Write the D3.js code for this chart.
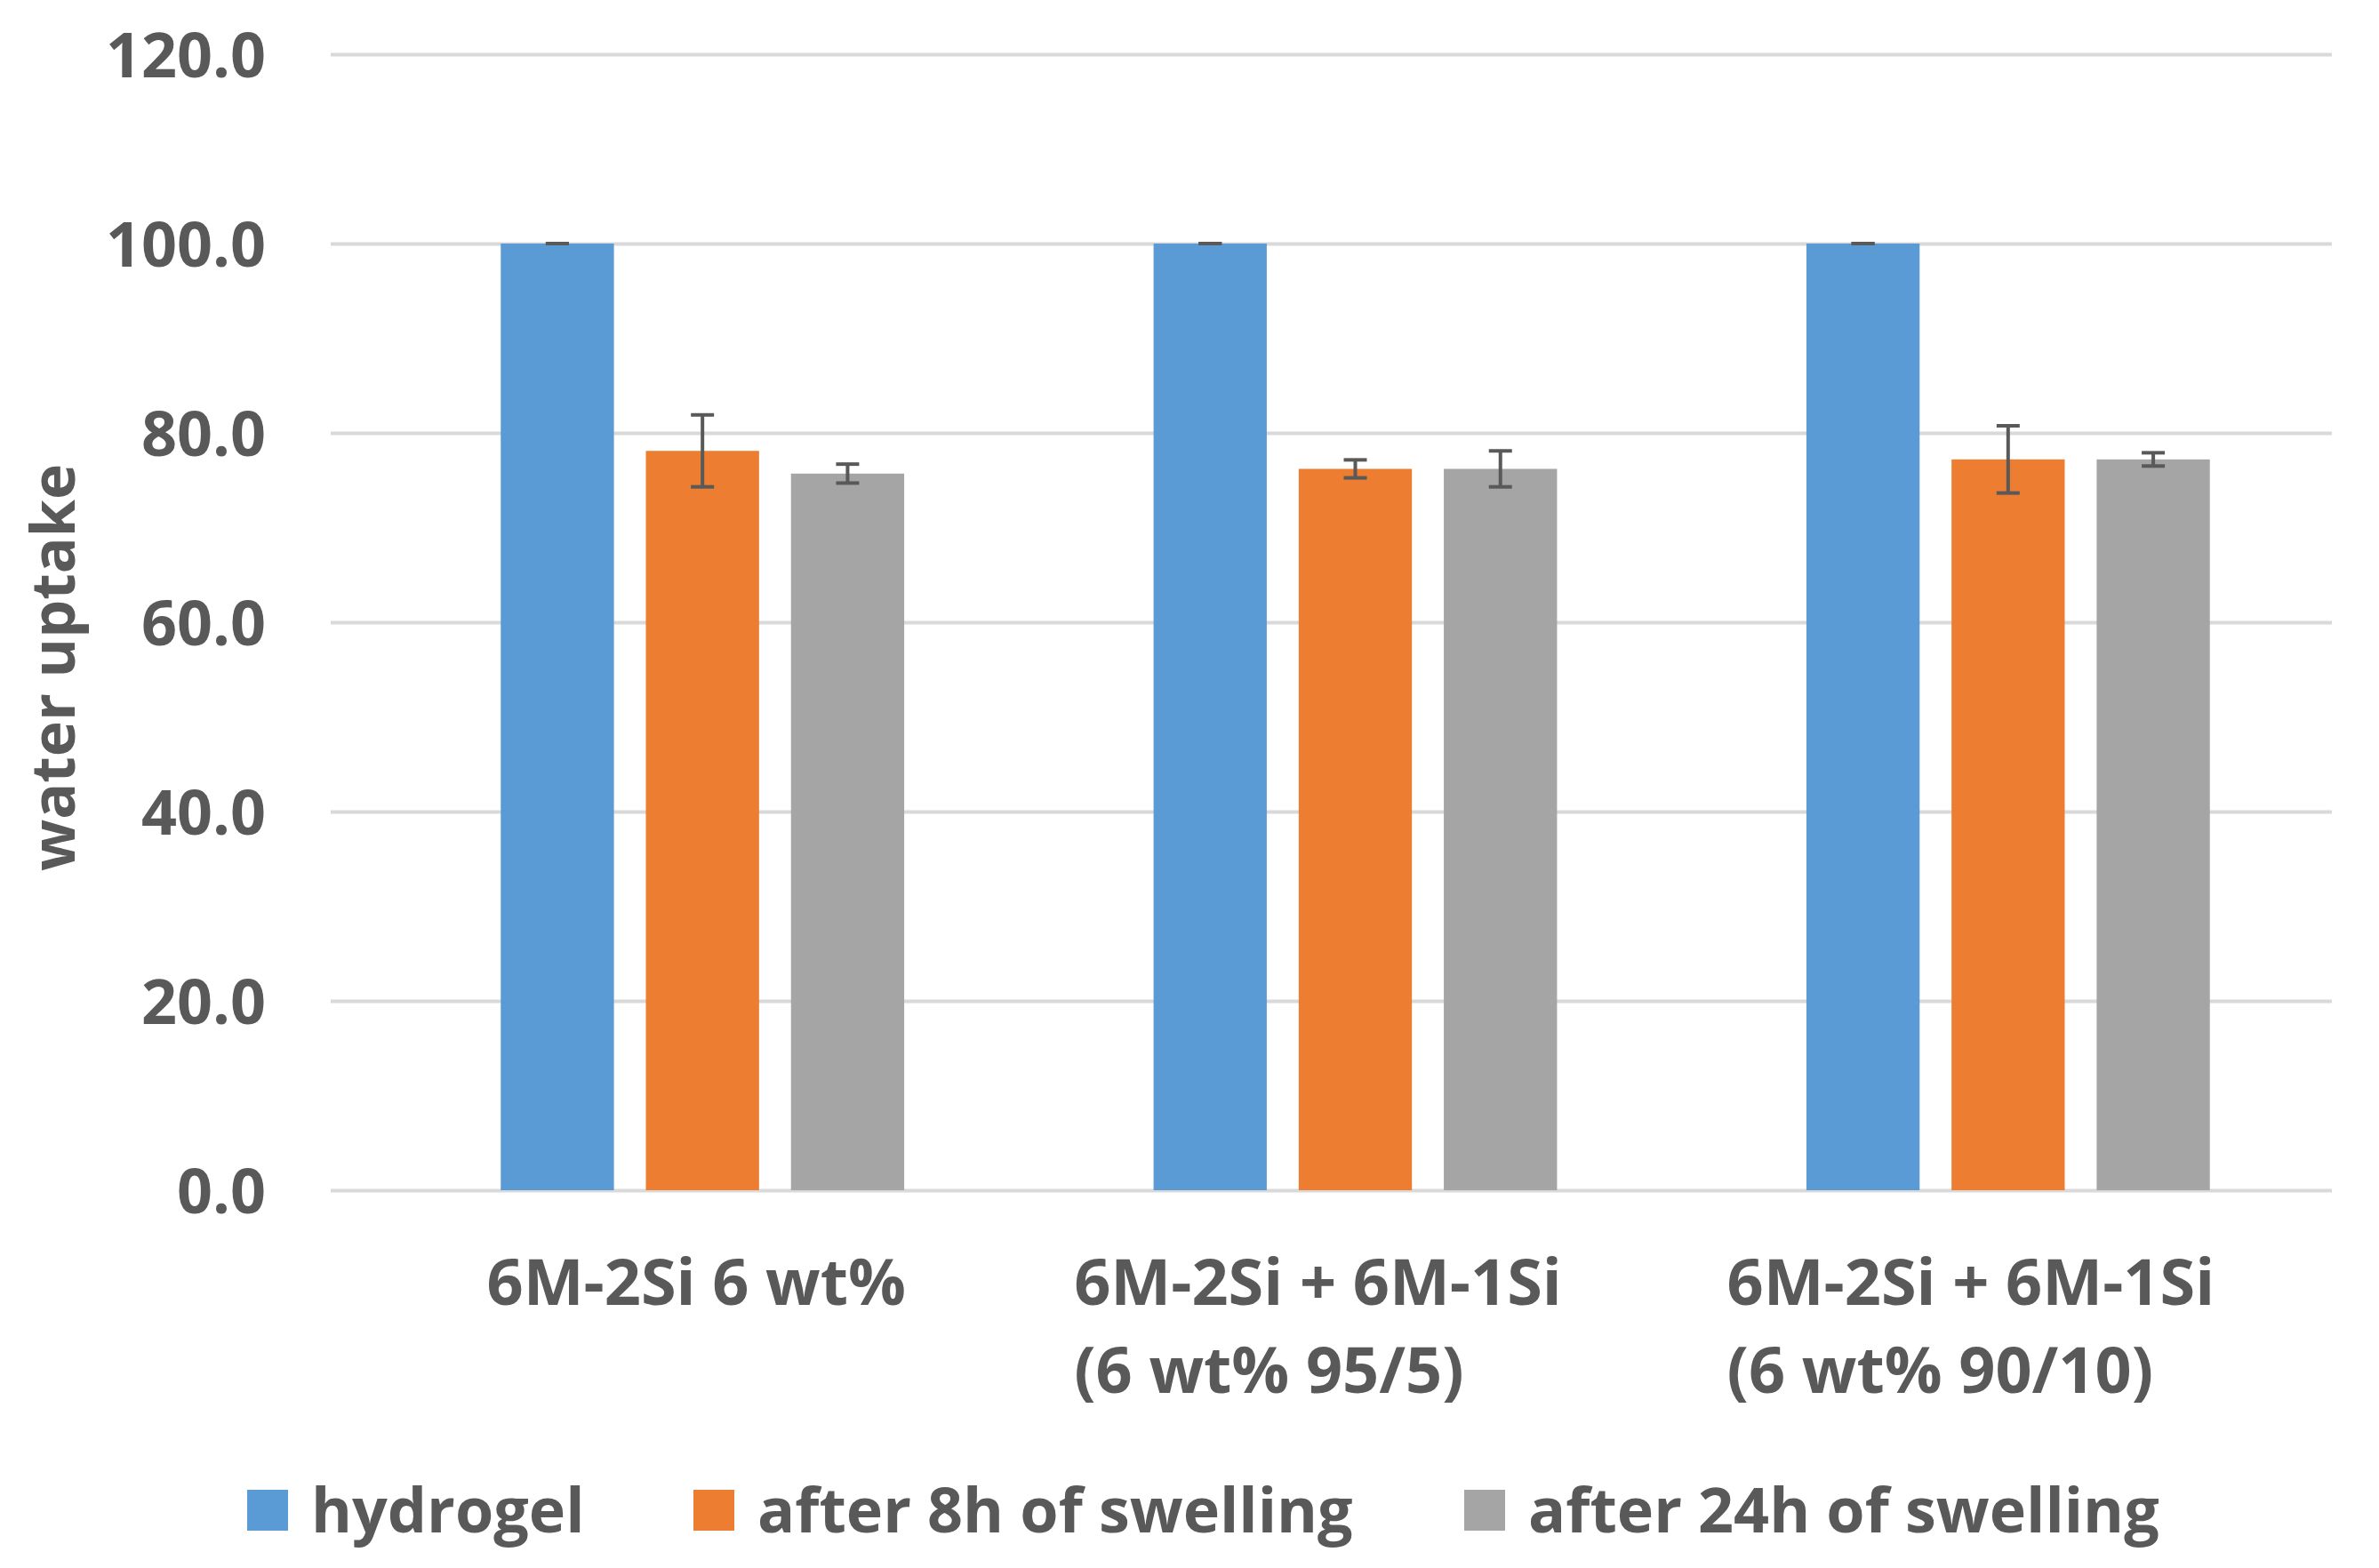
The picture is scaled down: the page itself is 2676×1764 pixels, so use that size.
<!DOCTYPE html>
<html>
<head>
<meta charset="utf-8">
<script src="https://cdn.jsdelivr.net/npm/d3@7"></script>
<style>
  body { margin: 0; background: #fff; }
  .axis text { font-family: "Open Sans", sans-serif; font-weight: 700; fill: #595959; }
  .lbl { font-family: "Open Sans", sans-serif; font-weight: 700; fill: #595959; }
</style>
</head>
<body>
<div id="chart"></div>
<script>
// data
let groups = ["g1", "g2", "g3"];
let groupLabels = [
    ["6M-2Si 6 wt%"],
    ["6M-2Si + 6M-1Si", "(6 wt% 95/5)"],
    ["6M-2Si + 6M-1Si", "(6 wt% 90/10)"]
];
let seriesNames = ["hydrogel", "after 8h of swelling", "after 24h of swelling"];
let seriesColors = ["#5B9BD5", "#ED7D31", "#A5A5A5"];
let hydrogel = [100, 100, 100];
let after8h = [78.1, 76.2, 77.2];
let after24h = [75.7, 76.2, 77.2];
let err8h = [3.8, 0.95, 3.55];
let err24h = [1.0, 1.9, 0.7];
let errHydrogel = [0, 0, 0];
let yTicks = [0, 20, 40, 60, 80, 100, 120];

let values = [hydrogel, after8h, after24h];
let errors = [errHydrogel, err8h, err24h];

let W = 2676, H = 1764;

let svg = d3.select("#chart").append("svg")
    .attr("width", W)
    .attr("height", H);

// scales
let y = d3.scaleLinear().domain([0, 120]).range([1339, 61]);
let x0 = d3.scaleBand().domain(groups).range([423, 2626])
    .paddingInner(0.382).paddingOuter(0.191);
let x1 = d3.scaleBand().domain(seriesNames).range([0, x0.bandwidth()])
    .paddingInner(0.22);

// y axis + gridlines
let gridLeft = 372, gridRight = 2623;
let yAxis = d3.axisLeft(y)
    .tickValues(yTicks)
    .tickFormat(d3.format(".1f"))
    .tickSize(-(gridRight - gridLeft))
    .tickPadding(73);

let yg = svg.append("g")
    .attr("class", "axis")
    .attr("transform", `translate(${gridLeft},0)`)
    .call(yAxis);
yg.select(".domain").remove();
yg.selectAll(".tick line").attr("stroke", "#d9d9d9").attr("stroke-width", 4);
yg.selectAll(".tick text").attr("font-size", 70).attr("dy", "0.36em");

// y title
svg.append("text")
    .attr("class", "lbl")
    .attr("transform", `translate(84, 751) rotate(-90)`)
    .attr("text-anchor", "middle")
    .attr("font-size", 68)
    .text("water uptake");

// bars
let rows = [];
groups.forEach((g, i) => {
    seriesNames.forEach((s, j) => {
        rows.push({group: g, series: s, idx: j, value: values[j][i], err: errors[j][i]});
    });
});

let barG = svg.append("g");
barG.selectAll("rect")
    .data(rows)
    .enter().append("rect")
    .attr("x", d => x0(d.group) + x1(d.series))
    .attr("y", d => y(d.value))
    .attr("width", x1.bandwidth())
    .attr("height", d => y(0) - y(d.value))
    .attr("fill", d => seriesColors[d.idx]);

// error bars
let capW = 26;
let errG = svg.append("g")
    .attr("stroke", "#595959")
    .attr("stroke-width", 4);
rows.forEach(d => {
    let cx = x0(d.group) + x1(d.series) + x1.bandwidth() / 2;
    let top = y(d.value + d.err), bot = y(d.value - d.err);
    errG.append("line").attr("x1", cx).attr("x2", cx).attr("y1", top).attr("y2", bot);
    errG.append("line").attr("x1", cx - capW / 2).attr("x2", cx + capW / 2).attr("y1", top).attr("y2", top);
    errG.append("line").attr("x1", cx - capW / 2).attr("x2", cx + capW / 2).attr("y1", bot).attr("y2", bot);
});

// category labels (left aligned lines, block roughly centred under group)
groups.forEach((g, i) => {
    let cx = x0(g) + x0.bandwidth() / 2;
    let t = svg.append("text")
        .attr("class", "lbl")
        .attr("font-size", 72);
    groupLabels[i].forEach((line, k) => {
        t.append("tspan")
            .attr("y", 1468 + k * 99)
            .text(line);
    });
    let maxW = d3.max(t.selectAll("tspan").nodes(), n => n.getComputedTextLength());
    let shift = groupLabels[i].length > 1 ? 42 : 7;
    t.selectAll("tspan").attr("x", cx - maxW / 2 - shift);
});

// legend
let legendX = [278, 780, 1647];
let legend = svg.append("g");
seriesNames.forEach((s, j) => {
    legend.append("rect")
        .attr("x", legendX[j])
        .attr("y", 1676)
        .attr("width", 46)
        .attr("height", 46)
        .attr("fill", seriesColors[j]);
    legend.append("text")
        .attr("class", "lbl")
        .attr("x", legendX[j] + 72)
        .attr("y", 1724)
        .attr("font-size", 70)
        .text(s);
});
</script>
</body>
</html>
